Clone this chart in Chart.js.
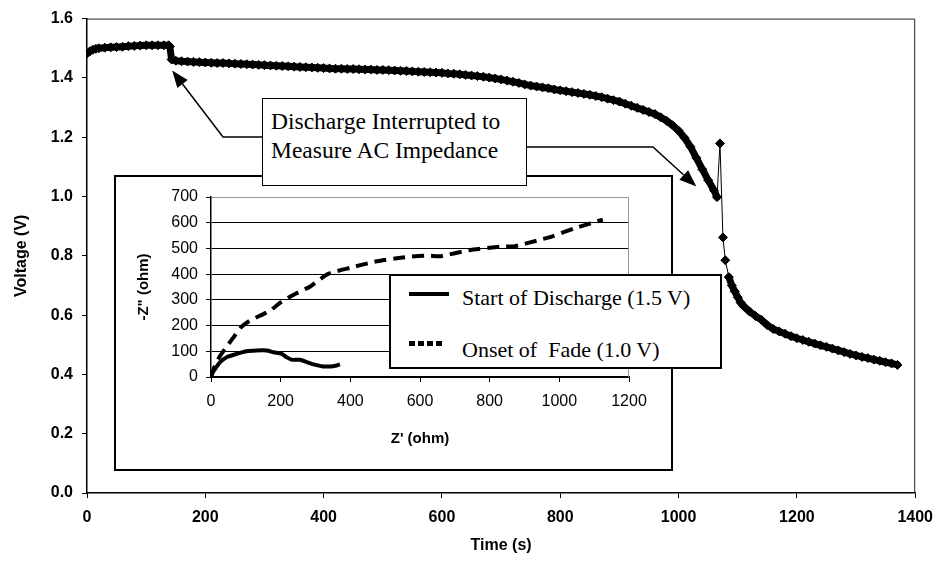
<!DOCTYPE html>
<html><head><meta charset="utf-8">
<script src="https://cdn.jsdelivr.net/npm/chart.js@4.4.1/dist/chart.umd.min.js"></script>
<style>
html,body{margin:0;padding:0;background:#fff;}
#wrap{position:relative;width:943px;height:561px;overflow:hidden;background:#fff;}
#main{position:absolute;left:0;top:0;}
#inset{position:absolute;left:114px;top:175px;width:555px;height:292px;border:2px solid #000;background:#fff;}
#inset canvas{display:block;}
.serif{font-family:"Liberation Serif","Times New Roman",serif;color:#000;white-space:pre;}
#legend{position:absolute;left:389px;top:274px;width:329px;height:91px;border:2px solid #000;background:#fff;font-size:22px;}
#legend .t{position:absolute;left:71px;line-height:24px;}
#legend .s1{position:absolute;left:18px;top:16px;width:40px;height:4px;background:#000;}
#legend .s2{position:absolute;left:18px;top:65px;width:33px;height:5px;background:repeating-linear-gradient(to right,#000 0 6px,transparent 6px 9px);}
#note{position:absolute;left:262px;top:98px;border:1.5px solid #000;background:#fff;font-size:23.5px;line-height:29px;padding:8px 0 0 8px;box-sizing:border-box;width:265px;height:88px;}
</style></head>
<body>
<div id="wrap">
<canvas id="main" width="943" height="561"></canvas>
<div id="inset"><canvas id="insetc" width="555" height="292"></canvas></div>
<div id="legend" class="serif">
  <div class="s1"></div><div class="t" style="top:10px">Start of Discharge (1.5 V)</div>
  <div class="s2"></div><div class="t" style="top:62px">Onset of  Fade (1.0 V)</div>
</div>
<div id="note" class="serif">Discharge Interrupted to
Measure AC Impedance</div>
</div>
<script>
// ---- main discharge curve ----
const timeS = [0,5,10,15,20,30,40,50,60,70,80,90,100,110,120,130,138,140,143,
150,160,170,180,190,200,210,220,230,240,250,260,270,280,290,300,310,320,330,340,350,360,370,380,390,
400,410,420,430,440,450,460,470,480,490,500,510,520,530,540,550,560,570,580,590,
600,610,620,630,640,650,660,670,680,690,700,710,720,730,740,750,760,770,780,790,
800,810,820,830,840,850,860,870,880,890,900,910,920,930,940,950,960,970,980,990,
1000,1010,1020,1030,1040,1050,1060,1065,1070,1075,1079,1085,1090,1095,1100,1105,1110,
1120,1130,1140,1150,1160,1170,1180,1190,1200,1210,1220,1230,1240,1250,1260,1270,1280,1290,
1300,1310,1320,1330,1340,1350,1360,1370];
const voltage = [1.482,1.490,1.495,1.498,1.500,1.502,1.503,1.504,1.505,1.507,1.508,1.509,1.510,1.510,1.510,1.510,1.510,1.506,1.462,
1.458,1.456,1.455,1.454,1.453,1.452,1.451,1.450,1.450,1.449,1.448,1.447,1.446,1.445,1.444,1.443,1.442,1.441,1.440,1.439,1.438,1.437,1.436,1.435,1.434,
1.433,1.432,1.431,1.431,1.430,1.430,1.429,1.428,1.428,1.427,1.427,1.426,1.425,1.424,1.423,1.422,1.421,1.420,1.419,1.418,
1.417,1.415,1.414,1.412,1.410,1.408,1.406,1.404,1.401,1.398,1.395,1.391,1.387,1.383,1.378,1.374,1.371,1.368,1.365,1.361,
1.358,1.355,1.352,1.349,1.346,1.343,1.339,1.335,1.330,1.325,1.320,1.313,1.306,1.299,1.292,1.285,1.278,1.267,1.255,1.240,
1.222,1.198,1.168,1.130,1.092,1.055,1.020,0.998,1.179,0.862,0.785,0.728,0.700,0.680,0.660,0.642,0.630,
0.612,0.597,0.584,0.566,0.553,0.545,0.537,0.529,0.522,0.516,0.510,0.504,0.498,0.493,0.487,0.481,0.475,0.469,
0.464,0.459,0.455,0.450,0.446,0.441,0.437,0.432];
const timeTicks = [0,200,400,600,800,1000,1200,1400];
const voltTicks = [0,0.2,0.4,0.6,0.8,1.0,1.2,1.4,1.6];
// sparse (individually visible) readings around the voltage spike
const sparseRange = [1065,1085];
// annotation arrow targets (time, voltage)
const arrowTargets = [[144,1.425],[1030,1.034]];

// ---- inset impedance (Nyquist) ----
const startRe = [0,5,12,26,45,74,102,130,160,180,203,217,232,255,275,294,322,342,361,370];
const startIm = [0,18,32,58,77,90,100,103,103,96,90,77,67,67,58,49,41,41,45,49];
const fadeRe = [0,5,10,25,45,65,85,110,140,170,200,240,285,335,400,470,550,620,660,740,840,870,940,980,1045,1125];
const fadeIm = [0,20,40,80,118,155,192,218,238,258,290,322,352,400,425,448,465,472,470,493,508,508,532,547,579,612];
const zReTicks = [0,200,400,600,800,1000,1200];
const zImTicks = [0,100,200,300,400,500,600,700];

const SANS = '"Liberation Sans", Arial, sans-serif';

const mainFrame = {
  id:'mainFrame',
  afterDraw(chart){
    const {ctx, chartArea:a, scales} = chart;
    ctx.save();
    ctx.strokeStyle = '#222'; ctx.lineWidth = 1;
    ctx.beginPath();
    ctx.moveTo(a.left, a.top+0.5); ctx.lineTo(a.right-0.5, a.top+0.5); ctx.lineTo(a.right-0.5, a.bottom);
    ctx.stroke();
    // arrows
    const paths = [
      [[262,137],[223,137]],
      [[527,147],[653,147]]
    ];
    ctx.strokeStyle = '#000'; ctx.fillStyle = '#000'; ctx.lineWidth = 1.5;
    paths.forEach((p,i)=>{
      const tx = scales.x.getPixelForValue(arrowTargets[i][0]);
      const ty = scales.y.getPixelForValue(arrowTargets[i][1]);
      const last = p[p.length-1];
      const ang = Math.atan2(ty-last[1], tx-last[0]);
      const L = 17, W = 6.5;
      const bx = tx - L*Math.cos(ang), by = ty - L*Math.sin(ang);
      ctx.beginPath();
      ctx.moveTo(p[0][0], p[0][1]);
      for (let k=1;k<p.length;k++) ctx.lineTo(p[k][0], p[k][1]);
      ctx.lineTo(bx, by);
      ctx.stroke();
      ctx.beginPath();
      ctx.moveTo(tx, ty);
      ctx.lineTo(bx + W*Math.sin(ang), by - W*Math.cos(ang));
      ctx.lineTo(bx - W*Math.sin(ang), by + W*Math.cos(ang));
      ctx.closePath(); ctx.fill();
    });
    ctx.restore();
  }
};

new Chart(document.getElementById('main'), {
  type:'line',
  data:{datasets:[{
    data: timeS.map((t,i)=>({x:t,y:voltage[i]})),
    borderColor:'#000', borderWidth:1, tension:0, fill:false,
    borderJoinStyle:'round', borderCapStyle:'round',
    segment:{ borderWidth: c => (c.p0.parsed.x >= sparseRange[0] && c.p1.parsed.x <= sparseRange[1]) ? 1 : 7 },
    pointStyle:'rectRot', pointRadius:4.5, pointBackgroundColor:'#000', pointBorderColor:'#000', pointBorderWidth:1
  }]},
  options:{
    responsive:false, animation:false, events:[],
    layout:{padding:{top:18,right:20,left:0,bottom:0}},
    plugins:{legend:{display:false}, tooltip:{enabled:false}},
    scales:{
      x:{type:'linear', min:0, max:1400,
        afterBuildTicks(s){ s.ticks = timeTicks.map(v=>({value:v})); },
        ticks:{color:'#000', font:{family:SANS, size:16, weight:'bold'}, padding:10, maxRotation:0, callback:v=>String(v)},
        grid:{drawOnChartArea:false, tickLength:5, color:'#000'},
        border:{color:'#000', width:1.5},
        title:{display:true, text:'Time (s)', color:'#000', font:{family:SANS, size:16, weight:'bold'}, padding:{top:0,bottom:6}},
        afterFit(s){ s.height = 68; }
      },
      y:{type:'linear', min:0, max:1.6,
        afterBuildTicks(s){ s.ticks = voltTicks.map(v=>({value:v})); },
        ticks:{color:'#000', font:{family:SANS, size:16, weight:'bold'}, padding:9, callback:v=>Number(v).toFixed(1)},
        grid:{drawOnChartArea:false, tickLength:5, color:'#000'},
        border:{color:'#000', width:1.5},
        title:{display:true, text:'Voltage (V)', color:'#000', font:{family:SANS, size:16, weight:'bold'}, padding:{top:12,bottom:0}},
        afterFit(s){ s.width = 87; }
      }
    }
  },
  plugins:[mainFrame]
});

const insetFrame = {
  id:'insetFrame',
  afterDraw(chart){
    const {ctx, chartArea:a} = chart;
    ctx.save();
    ctx.strokeStyle = '#999'; ctx.lineWidth = 1;
    ctx.beginPath();
    ctx.moveTo(a.right-0.5, a.top); ctx.lineTo(a.right-0.5, a.bottom);
    ctx.stroke();
    ctx.restore();
  }
};

new Chart(document.getElementById('insetc'), {
  type:'line',
  data:{datasets:[
    {data:startRe.map((x,i)=>({x:x,y:startIm[i]})), borderColor:'#000', borderWidth:4, pointRadius:0, tension:0.25, fill:false},
    {data:fadeRe.map((x,i)=>({x:x,y:fadeIm[i]})), borderColor:'#000', borderWidth:4, borderDash:[12,7], pointRadius:0, tension:0.2, fill:false}
  ]},
  options:{
    responsive:false, animation:false, events:[],
    layout:{padding:{top:20,right:42,left:0,bottom:0}},
    plugins:{legend:{display:false}, tooltip:{enabled:false}},
    scales:{
      x:{type:'linear', min:0, max:1200,
        afterBuildTicks(s){ s.ticks = zReTicks.map(v=>({value:v})); },
        ticks:{color:'#000', font:{family:SANS, size:16}, padding:10, maxRotation:0, callback:v=>String(v)},
        grid:{drawOnChartArea:false, tickLength:5, color:'#000'},
        border:{color:'#000', width:1.5},
        title:{display:true, text:"Z' (ohm)", color:'#000', font:{family:SANS, size:15, weight:'bold'}, padding:{top:0,bottom:21}},
        afterFit(s){ s.height = 92; }
      },
      y:{type:'linear', min:0, max:700,
        afterBuildTicks(s){ s.ticks = zImTicks.map(v=>({value:v})); },
        ticks:{color:'#000', font:{family:SANS, size:16}, padding:8, callback:v=>String(v)},
        grid:{color:c=> (c.tick && c.tick.value===700) ? '#999' : '#000', tickColor:'#000', tickLength:5, lineWidth:1},
        border:{color:'#000', width:1.5},
        title:{display:true, text:'-Z" (ohm)', color:'#000', font:{family:SANS, size:15, weight:'bold'}, padding:{top:19,bottom:0}},
        afterFit(s){ s.width = 95; }
      }
    }
  },
  plugins:[insetFrame]
});
</script>
</body></html>
